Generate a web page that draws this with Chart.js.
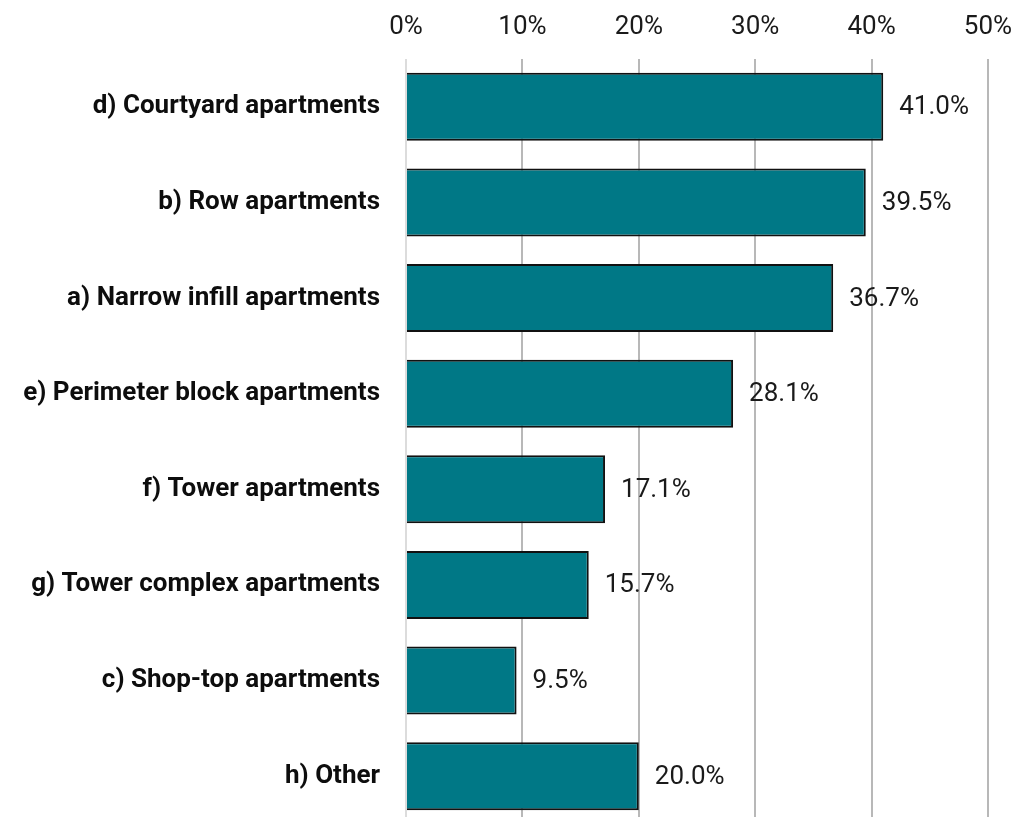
<!DOCTYPE html>
<html>
<head>
<meta charset="utf-8">
<script src="https://cdn.jsdelivr.net/npm/chart.js@4/dist/chart.umd.min.js"></script>
<style>
  html, body { margin: 0; padding: 0; background: #fff; overflow: hidden; }
</style>
</head>
<body>
<canvas id="grafica" width="1015" height="824"></canvas>
<script>
// categorías y porcentajes
const categorias = [
  "d) Courtyard apartments",
  "b) Row apartments",
  "a) Narrow infill apartments",
  "e) Perimeter block apartments",
  "f) Tower apartments",
  "g) Tower complex apartments",
  "c) Shop-top apartments",
  "h) Other"
];
const porcentajes = [41.0, 39.5, 36.7, 28.1, 17.1, 15.7, 9.5, 20.0];
const ticksX = [0, 10, 20, 30, 40, 50];

// etiquetas de valor a la derecha de cada barra
const etiquetasValor = {
  id: "etiquetasValor",
  afterDatasetsDraw(chart) {
    const ctx = chart.ctx;
    const meta = chart.getDatasetMeta(0);
    ctx.save();
    ctx.font = "26px Roboto";
    ctx.fillStyle = "#1a1a1a";
    ctx.textAlign = "left";
    ctx.textBaseline = "middle";
    meta.data.forEach((bar, i) => {
      ctx.fillText(porcentajes[i].toFixed(1) + "%", bar.x + 16, bar.y + 1);
    });
    ctx.restore();
  }
};

const ctx = document.getElementById("grafica").getContext("2d");

new Chart(ctx, {
  type: "bar",
  data: {
    labels: categorias,
    datasets: [{
      data: porcentajes,
      backgroundColor: "#007886",
      borderColor: "#111",
      borderWidth: 2,
      barPercentage: 0.71,
      categoryPercentage: 1
    }]
  },
  options: {
    indexAxis: "y",
    responsive: false,
    animation: false,
    layout: { padding: { left: 0, right: 27, top: 0, bottom: 0 } },
    plugins: {
      legend: { display: false },
      tooltip: { enabled: false }
    },
    scales: {
      x: {
        position: "top",
        min: 0,
        max: 50,
        afterBuildTicks: axis => {
          axis.ticks = ticksX.map(v => ({ value: v }));
        },
        afterFit: axis => {
          axis.height = 59;
          axis.paddingLeft = 0;
          axis.paddingRight = 0;
        },
        border: { display: false },
        grid: {
          drawTicks: false,
          lineWidth: 2,
          color: c => c.tick && c.tick.value === 0 ? "#dcdcdc" : "#b8b8b8"
        },
        ticks: {
          padding: 16,
          color: "#1a1a1a",
          font: { family: "Roboto", size: 26 },
          callback: v => v + "%"
        }
      },
      y: {
        afterFit: axis => {
          axis.width = 406;
          axis.paddingTop = 0;
          axis.paddingBottom = 0;
        },
        border: { display: false },
        grid: { display: false, drawTicks: false },
        ticks: {
          padding: 26,
          color: "#0d0d0d",
          font: { family: "Roboto", size: 26, weight: "bold" }
        }
      }
    }
  },
  plugins: [etiquetasValor]
});
</script>
</body>
</html>
